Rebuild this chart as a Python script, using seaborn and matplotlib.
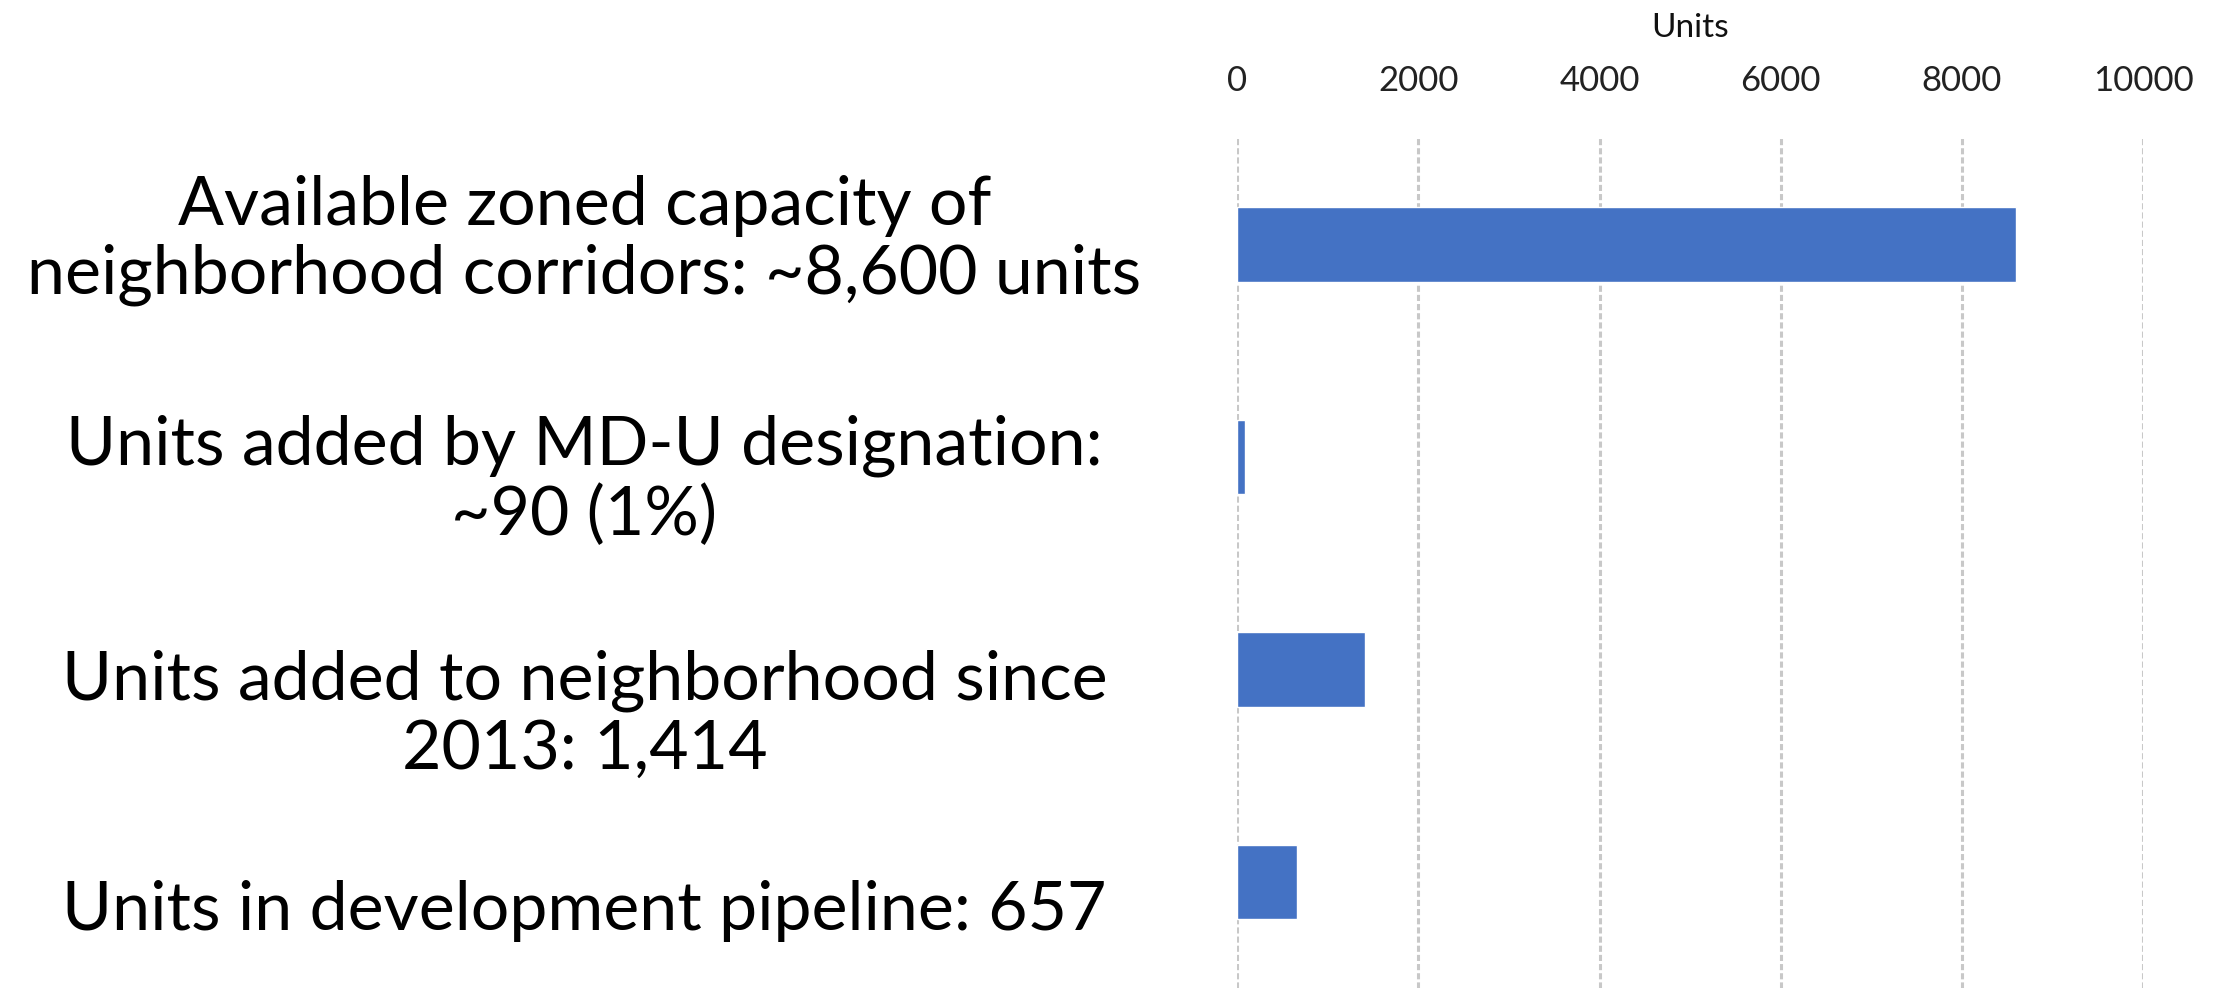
import matplotlib
matplotlib.use("Agg")
import matplotlib.pyplot as plt
import matplotlib.transforms as mtransforms
import seaborn as sns
import pandas as pd
from matplotlib import font_manager as fm

categories = [
    "Available zoned capacity of\nneighborhood corridors: ~8,600 units",
    "Units added by MD-U designation:\n~90 (1%)",
    "Units added to neighborhood since\n2013: 1,414",
    "Units in development pipeline: 657",
]
values = [8600, 90, 1414, 657]
xticks = [0, 2000, 4000, 6000, 8000, 10000]
xlabel = "Units"

sns.set_theme(style="white")
names = {f.name for f in fm.fontManager.ttflist}
fam = "Liberation Sans Narrow" if "Liberation Sans Narrow" in names else "Lato"
plt.rcParams["font.family"] = [fam, "DejaVu Sans"]

df = pd.DataFrame({"cat": categories, "val": values})

fig = plt.figure(figsize=(22.29, 9.88), dpi=100)
ax = fig.add_axes([0.555, 0.0, 0.4065, 0.860])
sns.barplot(data=df, y="cat", x="val", orient="h", color="#4472C4",
            width=0.35, ax=ax, saturation=1)
ax.set_xlim(0, 10000)
ax.set_ylim(3.5, -0.5)
ax.set_xticks(xticks)
ax.xaxis.tick_top()
ax.xaxis.set_label_position("top")
ax.set_xlabel(xlabel, fontsize=24, labelpad=20, color="#111111")
ax.set_ylabel("")
ax.tick_params(axis="x", labelsize=25, length=0, pad=30, colors="#222222")
ax.tick_params(axis="y", length=0, pad=470, labelsize=49)
label_shift_px = [-14, 14, 36, 23]
for lab, dy in zip(ax.get_yticklabels(), label_shift_px):
    lab.set_horizontalalignment("center")
    lab.set_multialignment("center")
    lab.set_linespacing(1.14)
    lab.set_color("black")
    lab.set_transform(lab.get_transform() +
                      mtransforms.ScaledTranslation(0, -dy / 100, fig.dpi_scale_trans))
ax.grid(axis="x", color="#c8c8c8", linestyle=(0, (2, 1)), linewidth=2.2)
ax.grid(axis="y", visible=False)
for s in ax.spines.values():
    s.set_visible(False)

fig.savefig("out.png", dpi=100)
